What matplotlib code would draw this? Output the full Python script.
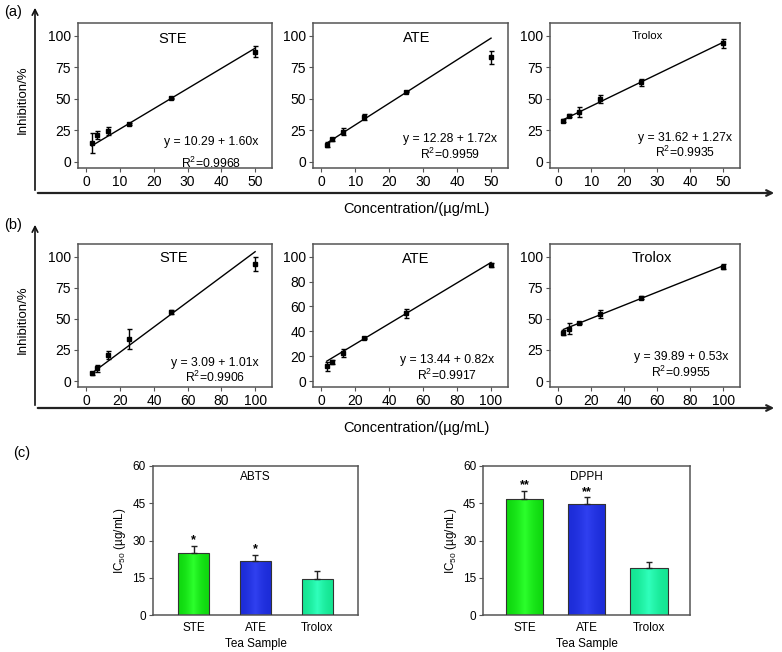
import matplotlib
matplotlib.use("Agg")
import matplotlib.pyplot as plt
import numpy as np
from matplotlib.colors import LinearSegmentedColormap

plt.rcParams['font.family'] = ['Liberation Sans', 'DejaVu Sans']
plt.rcParams['mathtext.fontset'] = 'custom'
plt.rcParams['mathtext.rm'] = 'Liberation Sans'
plt.rcParams['mathtext.default'] = 'regular'

# concentrations (ug/mL)
conc_a = [1.5625, 3.125, 6.25, 12.5, 25, 50]
conc_b = [3.125, 6.25, 12.5, 25, 50, 100]

# panel (a) inhibition %
a_ste = [14.8, 21.4, 24.6, 30.2, 50.5, 87.5]
a_ste_err = [8.0, 3.5, 3.0, 1.0, 0.5, 4.5]
a_ate = [13.5, 18.0, 24.0, 35.5, 55.8, 83.0]
a_ate_err = [2.0, 1.0, 3.0, 2.5, 0.5, 5.0]
a_tro = [32.8, 36.8, 39.7, 50.0, 63.2, 94.2]
a_tro_err = [1.0, 1.5, 4.0, 3.5, 3.0, 3.5]

# panel (b) inhibition %
b_ste = [6.1, 10.1, 20.8, 33.9, 55.4, 94.0]
b_ste_err = [1.0, 2.5, 3.0, 8.0, 1.5, 5.7]
b_ate = [11.9, 15.4, 22.6, 34.5, 54.4, 93.6]
b_ate_err = [3.5, 1.5, 3.5, 0.5, 3.5, 1.5]
b_tro = [38.7, 42.2, 46.4, 53.9, 67.2, 92.0]
b_tro_err = [2.0, 4.5, 0.5, 3.5, 1.0, 2.0]

# fitted lines (intercept, slope) and R2 as printed
a_fits = [(10.29, 1.60, 0.9968), (12.28, 1.72, 0.9959), (31.62, 1.27, 0.9935)]
b_fits = [(3.09, 1.01, 0.9906), (13.44, 0.82, 0.9917), (39.89, 0.53, 0.9955)]

# panel (c) IC50
samples = ['STE', 'ATE', 'Trolox']
abts_ic50 = [24.9, 21.9, 14.5]
abts_err = [3.0, 2.3, 3.4]
abts_sig = ['*', '*', '']
dpph_ic50 = [46.6, 44.7, 19.1]
dpph_err = [3.4, 2.7, 2.1]
dpph_sig = ['**', '**', '']
bar_edge_cols = ['#0fd80f', '#1c2cd8', '#14e592']
bar_mid_cols = ['#2cff2c', '#3040f0', '#30ffbb']

W, H = 782, 652
fig = plt.figure(figsize=(W / 100, H / 100), dpi=100)


def box(x0, y0, x1, y1):
    # pixel box (top-left origin) -> figure fraction rect
    return [x0 / W, 1 - y1 / H, (x1 - x0) / W, (y1 - y0) / H]


def style(ax):
    for s in ax.spines.values():
        s.set_color('#555555')
        s.set_linewidth(1.1)
    ax.tick_params(direction='out', length=3, width=0.8, color='#555555',
                   labelsize=10, pad=2)


def line_panel(rect, x, y, err, fit, title, tsize, xlim, yticks, tpos, epos, rpos):
    ax = fig.add_axes(rect)
    style(ax)
    a, b, r2 = fit
    xs = [x[0], x[-1]]
    ax.plot(xs, [a + b * v for v in xs], color='black', lw=1.0)
    ax.errorbar(x, y, yerr=err, fmt='s', color='black', ms=3, elinewidth=1,
                capsize=1.8, capthick=1)
    ax.set_xlim(*xlim)
    ax.set_ylim(-4.8, 110.3)
    ax.set_yticks(yticks)
    ax.set_xticks(range(0, int(xlim[1]) + 1, 10 if xlim[1] < 60 else 20))
    ax.text(tpos[0], tpos[1], title, transform=ax.transAxes, ha='center',
            va='center', fontsize=tsize)
    ax.text(epos[0], epos[1], 'y = %.2f + %.2fx' % (a, b), transform=ax.transAxes,
            ha='center', va='center', fontsize=8.8)
    ax.text(rpos[0], rpos[1], 'R$^2$=%.4f' % r2, transform=ax.transAxes,
            ha='center', va='center', fontsize=8.8)
    return ax


cols = [(78, 272), (313, 508), (550, 740)]
names = ['STE', 'ATE', 'Trolox']

# panel (a)
a_data = [(a_ste, a_ste_err), (a_ate, a_ate_err), (a_tro, a_tro_err)]
a_tsize = [10.5, 10.5, 8.2]
a_tpos = [(0.49, 0.89), (0.53, 0.894), (0.51, 0.91)]
a_epos = [(0.686, 0.181), (0.703, 0.198), (0.71, 0.205)]
a_rpos = [(0.686, 0.03), (0.703, 0.097), (0.71, 0.106)]
for i in range(3):
    line_panel(box(cols[i][0], 23, cols[i][1], 168), conc_a, a_data[i][0],
               a_data[i][1], a_fits[i], names[i], a_tsize[i], (-2.5, 55),
               [0, 25, 50, 75, 100], a_tpos[i], a_epos[i], a_rpos[i])

# panel (b)
b_data = [(b_ste, b_ste_err), (b_ate, b_ate_err), (b_tro, b_tro_err)]
b_yt = [[0, 25, 50, 75, 100], [0, 20, 40, 60, 80, 100], [0, 25, 50, 75, 100]]
b_tpos = [(0.495, 0.9), (0.526, 0.895), (0.535, 0.9)]
b_epos = [(0.705, 0.17), (0.686, 0.189), (0.688, 0.208)]
b_rpos = [(0.705, 0.065), (0.686, 0.079), (0.688, 0.1)]
for i in range(3):
    line_panel(box(cols[i][0], 244, cols[i][1], 387), conc_b, b_data[i][0],
               b_data[i][1], b_fits[i], names[i], 10.5, (-5, 110),
               b_yt[i], b_tpos[i], b_epos[i], b_rpos[i])

# axis arrows and shared labels
for y_h, y_top in [(193, 5), (408, 222)]:
    fig.add_artist(matplotlib.patches.FancyArrowPatch(
        (35 / W, 1 - y_h / H), (35 / W, 1 - y_top / H), transform=fig.transFigure,
        arrowstyle='->', mutation_scale=10, lw=1.2, color='#111111'))
    fig.add_artist(matplotlib.patches.FancyArrowPatch(
        (35 / W, 1 - y_h / H), (777 / W, 1 - y_h / H), transform=fig.transFigure,
        arrowstyle='->', mutation_scale=10, lw=1.6, color='#222222'))

fig.text(0.0294, 0.847, 'Inhibition/%', rotation=90, ha='center', va='center', fontsize=9.5)
fig.text(0.0294, 0.509, 'Inhibition/%', rotation=90, ha='center', va='center', fontsize=9.5)
fig.text(0.532, 1 - 209 / H, 'Concentration/(µg/mL)', ha='center', va='center', fontsize=10.5)
fig.text(0.532, 1 - 428 / H, 'Concentration/(µg/mL)', ha='center', va='center', fontsize=10.5)
fig.text(0.005, 1 - 12 / H, '(a)', ha='left', va='center', fontsize=10.5)
fig.text(0.005, 1 - 225 / H, '(b)', ha='left', va='center', fontsize=10.5)
fig.text(13 / W, 1 - 453 / H, '(c)', ha='left', va='center', fontsize=10.5)


# panel (c)
def bar_panel(rect, vals, errs, sig, title, width):
    ax = fig.add_axes(rect)
    style(ax)
    ax.tick_params(labelsize=8.5)
    ax.tick_params(axis='x', length=0, pad=5)
    pos = range(len(samples))
    bars = ax.bar(pos, vals, width=width, color='none', edgecolor='#333333',
                  lw=0.8, zorder=3)
    grad = np.array([[0.0, 0.5, 1.0]])
    for bar, c0, c1 in zip(bars, bar_edge_cols, bar_mid_cols):
        cmap = LinearSegmentedColormap.from_list('g', [c0, c1, c0])
        x0, w, h = bar.get_x(), bar.get_width(), bar.get_height()
        im = ax.imshow(grad, cmap=cmap, aspect='auto', interpolation='bicubic',
                       extent=[x0, x0 + w, 0, h], zorder=2)
        im.set_clip_path(bar)
    ax.errorbar(pos, vals, yerr=[[0] * len(errs), errs], fmt='none',
                ecolor='#222222', elinewidth=1, capsize=2.5, capthick=1, zorder=4)
    for p, v, e, s in zip(pos, vals, errs, sig):
        if s:
            ax.text(p, v + e + 2.2, s, ha='center', va='center', fontsize=9,
                    fontweight='bold')
    ax.set_xlim(-0.66, 2.66)
    ax.set_ylim(0, 60)
    ax.set_yticks([0, 15, 30, 45, 60])
    ax.set_xticks(list(pos))
    ax.set_xticklabels(samples)
    ax.set_xlabel('Tea Sample', fontsize=8.5, labelpad=3)
    ax.set_ylabel('IC$_{50}$ (µg/mL)', fontsize=8.5, labelpad=3)
    ax.text(0.5, 0.928, title, transform=ax.transAxes, ha='center', va='center',
            fontsize=8.5)
    return ax


bar_panel(box(152.7, 466, 358.3, 615), abts_ic50, abts_err, abts_sig, 'ABTS', 0.5)
bar_panel(box(483.3, 466, 690, 615), dpph_ic50, dpph_err, dpph_sig, 'DPPH', 0.6)

fig.savefig('out.png', dpi=100)
